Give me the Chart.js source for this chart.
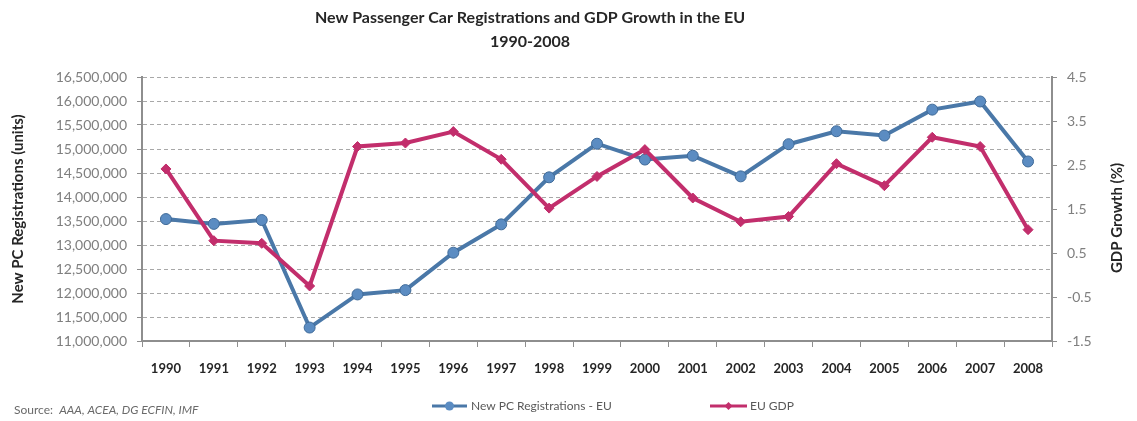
<!DOCTYPE html>
<html>
<head>
<meta charset="utf-8">
<script src="https://cdn.jsdelivr.net/npm/chart.js@4.4.1/dist/chart.umd.min.js"></script>
<style>
  html, body { margin: 0; padding: 0; background: #fff; }
  #wrap { width: 1137px; height: 421px; }
</style>
</head>
<body>
<div id="wrap"><canvas id="carChart" width="1137" height="421"></canvas></div>
<script>
// data
const years = ['1990', '1991', '1992', '1993', '1994', '1995', '1996', '1997', '1998', '1999',
               '2000', '2001', '2002', '2003', '2004', '2005', '2006', '2007', '2008'];
const registrations = [13540000, 13440000, 13520000, 11280000, 11970000, 12060000, 12840000,
                       13430000, 14410000, 15110000, 14780000, 14860000, 14430000, 15100000,
                       15370000, 15280000, 15820000, 15990000, 14740000];
const gdpGrowth = [2.41, 0.78, 0.72, -0.25, 2.92, 3.00, 3.26, 2.63, 1.52, 2.24,
                   2.85, 1.75, 1.21, 1.33, 2.53, 2.03, 3.13, 2.92, 1.03];

const titleLines = ['New Passenger Car Registrations and GDP Growth in the EU', '1990-2008'];
const leftTitle = 'New PC Registrations (units)';
const rightTitle = 'GDP Growth (%)';
const seriesNames = ['New PC Registrations - EU', 'EU GDP'];

const blue = '#4a78a8';
const pink = '#c22e6c';
const axisGrey = '#8e8e8e';
const fontName = 'Lato, "Open Sans", sans-serif';

// title, right axis title, legend and source line
const extras = {
    id: 'extras',
    afterDraw(chart) {
        const ctx = chart.ctx;
        ctx.save();
        ctx.fillStyle = '#262626';
        ctx.textAlign = 'center';
        ctx.textBaseline = 'middle';
        ctx.font = 'bold 16px ' + fontName;
        ctx.fillText(titleLines[0], 530, 18);
        ctx.fillText(titleLines[1], 530, 42);

        // right axis title, reads bottom to top
        ctx.save();
        ctx.translate(1117, 218);
        ctx.rotate(-Math.PI / 2);
        ctx.font = 'bold 15px ' + fontName;
        ctx.fillText(rightTitle, 0, 0);
        ctx.restore();

        // legend
        const ly = 406;
        ctx.lineWidth = 3;
        ctx.strokeStyle = blue;
        ctx.beginPath(); ctx.moveTo(432, ly); ctx.lineTo(467, ly); ctx.stroke();
        ctx.fillStyle = '#5b8cc2';
        ctx.beginPath(); ctx.arc(449.5, ly, 4.5, 0, Math.PI * 2); ctx.fill();
        ctx.strokeStyle = pink;
        ctx.beginPath(); ctx.moveTo(710, ly); ctx.lineTo(747, ly); ctx.stroke();
        ctx.fillStyle = pink;
        ctx.beginPath();
        ctx.moveTo(728.5, ly - 4); ctx.lineTo(732.5, ly); ctx.lineTo(728.5, ly + 4); ctx.lineTo(724.5, ly);
        ctx.closePath(); ctx.fill();

        ctx.fillStyle = '#595959';
        ctx.textAlign = 'left';
        ctx.font = '12px ' + fontName;
        ctx.fillText(seriesNames[0], 471, ly);
        ctx.fillText(seriesNames[1], 750, ly);

        // source
        ctx.fillStyle = '#6a6a6a';
        ctx.font = '12px ' + fontName;
        ctx.fillText('Source:', 14, 410);
        const w = ctx.measureText('Source:  ').width;
        ctx.font = 'italic 12px ' + fontName;
        ctx.fillText('AAA, ACEA, DG ECFIN, IMF', 14 + w, 410);
        ctx.restore();
    }
};

const ctx = document.getElementById('carChart').getContext('2d');

new Chart(ctx, {
    type: 'line',
    data: {
        labels: years,
        datasets: [{
            label: seriesNames[0],
            data: registrations,
            yAxisID: 'y',
            borderColor: blue,
            borderWidth: 4,
            pointStyle: 'circle',
            pointRadius: 5.5,
            pointBackgroundColor: '#5b8cc2',
            pointBorderColor: '#3f6a98',
            pointBorderWidth: 1,
            tension: 0,
            order: 1
        }, {
            label: seriesNames[1],
            data: gdpGrowth,
            yAxisID: 'y1',
            borderColor: pink,
            borderWidth: 4,
            pointStyle: 'rectRot',
            pointRadius: 5,
            pointBackgroundColor: pink,
            pointBorderColor: pink,
            pointBorderWidth: 1,
            tension: 0,
            order: 0
        }]
    },
    options: {
        responsive: false,
        animation: false,
        devicePixelRatio: 1,
        layout: { padding: { top: 77, left: 0, right: 0, bottom: 0 } },
        plugins: {
            legend: { display: false },
            tooltip: { enabled: false }
        },
        scales: {
            x: {
                offset: true,
                afterFit: s => { s.height = 80; },
                grid: {
                    offset: true,
                    drawOnChartArea: false,
                    tickLength: 6,
                    color: axisGrey
                },
                border: { color: axisGrey, width: 2 },
                ticks: {
                    padding: 14,
                    color: '#262626',
                    font: { family: fontName, size: 13, weight: 'bold' }
                }
            },
            y: {
                position: 'left',
                min: 11000000,
                max: 16500000,
                afterFit: s => { s.width = 142; },
                ticks: {
                    stepSize: 500000,
                    padding: 10,
                    color: '#7f7f7f',
                    font: { family: fontName, size: 14 },
                    callback: v => v.toLocaleString('en-US')
                },
                grid: {
                    color: '#a8a8a8',
                    lineWidth: 1,
                    tickLength: 5,
                    tickColor: axisGrey,
                    tickBorderDash: []
                },
                border: { color: axisGrey, width: 2, dash: [4, 3] },
                title: {
                    display: true,
                    text: leftTitle,
                    color: '#262626',
                    font: { family: fontName, size: 15, weight: 'bold' },
                    padding: { top: 9, bottom: 0 }
                }
            },
            y1: {
                position: 'right',
                min: -1.5,
                max: 4.5,
                afterFit: s => { s.width = 85; },
                ticks: {
                    stepSize: 1,
                    padding: 10,
                    color: '#7f7f7f',
                    font: { family: fontName, size: 14 },
                    callback: v => v.toFixed(1)
                },
                grid: {
                    drawOnChartArea: false,
                    tickLength: 5,
                    color: axisGrey
                },
                border: { color: axisGrey, width: 2 }
            }
        }
    },
    plugins: [extras]
});
</script>
</body>
</html>
